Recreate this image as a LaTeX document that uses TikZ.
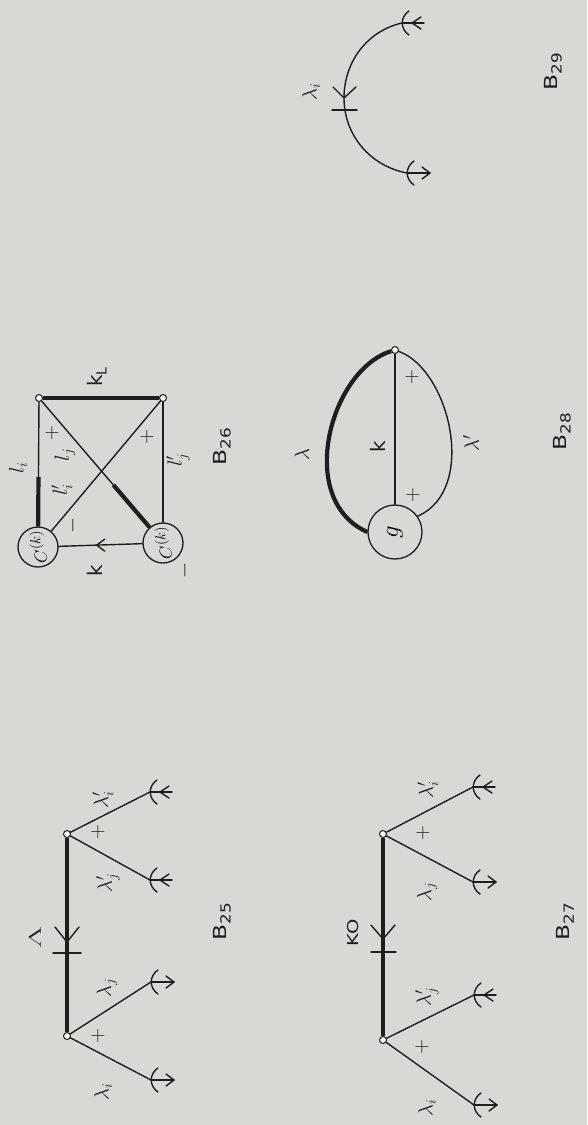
\documentclass[tikz,border=0pt]{standalone}
\usepackage{fontspec}
\newfontfamily\labfont{DejaVu Sans}
\usetikzlibrary{calc}
\definecolor{paper}{RGB}{216,216,212}
\definecolor{ink}{RGB}{30,30,30}
\newcommand\bname[1]{{\labfont\fontsize{18}{19}\selectfont\scalebox{1.3}[1]{B}\kern0.5pt\raisebox{-0.45ex}{\fontsize{14}{15}\selectfont\scalebox{1.2}[1]{#1}}}}
\tikzset{
  ln/.style={draw=ink, line width=1.4pt, line cap=round, line join=round},
  thk/.style={draw=ink, line width=4.2pt},
  vtx/.style={circle, draw=ink, fill=white!85!paper, line width=1pt, inner sep=0pt, minimum size=7pt},
  blob/.style={circle, draw=ink, line width=1.3pt, inner sep=0pt, minimum size=40pt},
  lab/.style={rotate=90, text=ink, inner sep=0pt, font=\fontsize{22}{24}\selectfont},
  sgn/.style={rotate=90, text=ink, inner sep=0pt, font=\fontsize{21}{22}\selectfont},
  slab/.style={rotate=90, text=ink, inner sep=0pt, font=\labfont\fontsize{20}{22}\selectfont},
  endin/.pic={
    \draw[ln] (7,-12) .. controls (-2,-6) and (-2,6) .. (7,12);
    \draw[ln] (0,0) -- (22,0);
    \draw[ln] (19,-6) -- (10,0) -- (19,6);
  },
  endout/.pic={
    \draw[ln] (7,-12) .. controls (-2,-6) and (-2,6) .. (7,12);
    \draw[ln] (0,0) -- (23,0);
    \draw[ln] (15,-6) -- (23,0) -- (15,6);
  }
}
\begin{document}
\begin{tikzpicture}[x=1pt,y=-1pt]
\fill[paper] (0,0) rectangle (587,1125);
\useasboundingbox (0,0) rectangle (587,1125);

% ---------------- B29
\coordinate (t29) at (402,23);
\coordinate (m29) at (344,98);
\coordinate (b29) at (407,173);
\draw[ln] (t29) .. controls (367,31) and (344,62) .. (m29) .. controls (344,135) and (370,166) .. (b29);
\pic at (t29) {endin};
\pic at (b29) {endout};
\draw[ln] (333,87) -- (m29) -- (356,87);
\draw[ln] (332,110) -- (357,110);
\node[lab] (l29) at (311,92) {$\lambda_i$};
\node[lab] (n29) at (553,72) {\bname{29}};

% ---------------- B26
\node[vtx] (tl) at (39,398) {};
\node[vtx] (tr) at (163,398) {};
\node[blob] (lc) at (38,547) {\rotatebox{90}{\fontsize{19}{20}\selectfont$C^{(k)}$}};
\node[blob] (rc) at (163,543) {\rotatebox{90}{\fontsize{19}{20}\selectfont$C^{(k)}$}};
\draw[thk] (tl) -- (tr);
\draw[ln] (tl) -- (lc);
\draw[thk] ($(tl)!0.53!(lc)$) -- (lc);
\draw[ln] (tr) -- (rc);
\draw[ln] (tl) -- (rc);
\draw[thk] ($(tl)!0.6!(rc)$) -- (rc);
\draw[ln] (tr) -- (lc);
\draw[ln] (lc) -- (rc);
\coordinate (ka) at ($(lc)!0.47!(rc)$);
\draw[ln] ($(ka)+(8,-6)$) -- (ka) -- ($(ka)+(8,6)$);
\node[slab] (kl) at (97,377) {k\raisebox{-0.35ex}{\fontsize{14}{14}\selectfont L}};
\node[lab] (li) at (18,468) {$l_i$};
\node[lab] (lj) at (65,455) {$l_j$};
\node[lab] (lpi) at (62,490) {$l'_i$};
\node[lab] (lpj) at (178,460) {$l'_j$};
\node[sgn] (p261) at (52,433) {$+$};
\node[sgn] (p262) at (147,437) {$+$};
\node[sgn] (m261) at (73,525) {$-$};
\node[sgn] (m262) at (185,570) {$-$};
\node[slab] (k26) at (95,571) {k};
\node[lab] (n26) at (222,447) {\bname{26}};

% ---------------- B28
\node[vtx] (v28) at (395,350) {};
\node[circle, draw=ink, line width=1.3pt, minimum size=54pt, inner sep=0pt] (g28) at (395,532) {\rotatebox{90}{\fontsize{38}{38}\selectfont$g$}};
\draw[ln] (v28) -- (g28);
\draw[thk] (v28) .. controls (330,370) and (295,500) .. (g28.west);
\draw[ln] (v28) .. controls (450,370) and (478,490) .. (g28.35);
\node[lab] (lam28) at (302,455) {$\lambda$};
\node[lab] (lamp28) at (471,443) {$\lambda'$};
\node[slab] (k28) at (378,447) {k};
\node[sgn] (p281) at (412,377) {$+$};
\node[sgn] (p282) at (413,495) {$+$};
\node[lab] (n28) at (562,432) {\bname{28}};

% ---------------- B25
\node[vtx] (a1) at (67,834) {};
\node[vtx] (a2) at (67,1036) {};
\draw[thk] (a1) -- (a2);
\coordinate (a11) at (150,792);
\coordinate (a12) at (150,880);
\coordinate (a21) at (151,982);
\coordinate (a22) at (151,1080);
\draw[ln] (a1) -- (a11);
\draw[ln] (a1) -- (a12);
\draw[ln] (a2) -- (a21);
\draw[ln] (a2) -- (a22);
\pic at (a11) {endin};
\pic at (a12) {endin};
\pic at (a21) {endout};
\pic at (a22) {endout};
\draw[ln] (55,927) -- (67,942) -- (79,927);
\draw[ln] (53,953) -- (81,953);
\node[lab] at (35,937) {\scalebox{2}[1]{\fontsize{16}{17}\selectfont$\Lambda$}};
\node[lab] at (103,800) {$\lambda'_i$};
\node[lab] at (108,883) {$\lambda'_j$};
\node[lab] at (107,988) {$\lambda_j$};
\node[lab] at (103,1092) {$\lambda_i$};
\node[sgn] at (98,832) {$+$};
\node[sgn] at (98,1036) {$+$};
\node[lab] (n25) at (222,922) {\bname{25}};

% ---------------- B27
\node[vtx] (c1) at (383,834) {};
\node[vtx] (c2) at (383,1040) {};
\draw[thk] (c1) -- (c2);
\coordinate (c11) at (473,787);
\coordinate (c12) at (473,882);
\coordinate (c21) at (474,995);
\coordinate (c22) at (474,1105);
\draw[ln] (c1) -- (c11);
\draw[ln] (c1) -- (c12);
\draw[ln] (c2) -- (c21);
\draw[ln] (c2) -- (c22);
\pic at (c11) {endin};
\pic at (c12) {endout};
\pic at (c21) {endin};
\pic at (c22) {endout};
\draw[ln] (371,925) -- (383,939) -- (395,925);
\draw[ln] (371,952) -- (396,952);
\node[lab] at (353,933) {\labfont\fontsize{15}{16}\selectfont\scalebox{1.3}[1]{KO}};
\node[lab] at (428,790) {$\lambda'_i$};
\node[lab] at (427,892) {$\lambda_j$};
\node[lab] at (427,997) {$\lambda'_j$};
\node[lab] at (427,1108) {$\lambda_i$};
\node[sgn] at (423,833) {$+$};
\node[sgn] at (422,1047) {$+$};
\node[lab] (n27) at (565,922) {\bname{27}};
\end{tikzpicture}
\end{document}
